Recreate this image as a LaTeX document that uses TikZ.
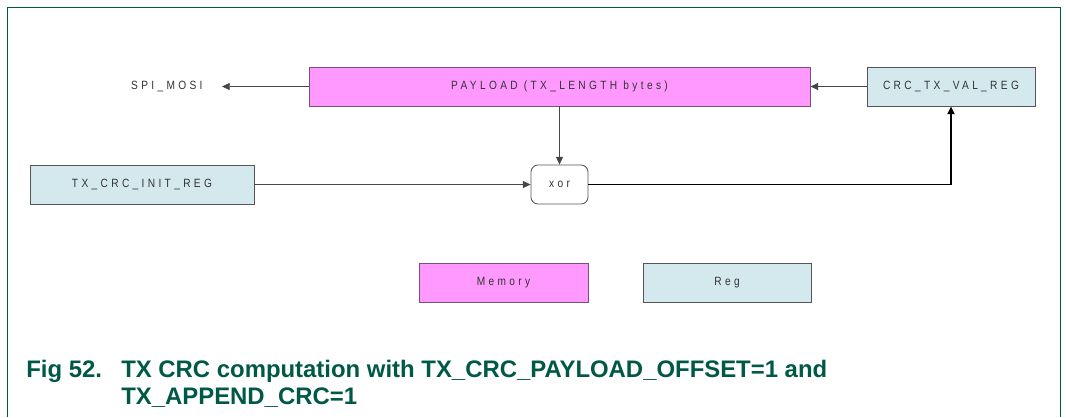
\documentclass[tikz,border=0pt]{standalone}
\usepackage{fontspec}
\setmainfont{Liberation Sans}
\newfontfamily\diagfont[LetterSpace=28, FakeStretch=0.85]{Liberation Sans}
\usetikzlibrary{arrows.meta, positioning}
\definecolor{memmagenta}{RGB}{255, 153, 255}
\definecolor{memborder}{RGB}{120, 80, 120}
\definecolor{reglightblue}{RGB}{211, 233, 238}
\definecolor{boxgray}{RGB}{85, 85, 85}
\definecolor{linegray}{RGB}{70, 70, 70}
\definecolor{nxpgreen}{RGB}{0, 88, 70}

\begin{document}
\begin{tikzpicture}[x=0.025cm, y=-0.025cm,
  cbox/.style={draw=boxgray, line width=0.6pt, minimum height=0.975cm, align=center, inner sep=0pt,
    font=\diagfont\fontsize{8.5}{10}\selectfont, text=black!80},
  membox/.style={cbox, fill=memmagenta, draw=memborder},
  regbox/.style={cbox, fill=reglightblue},
  flow/.style={draw=linegray, line width=0.5pt, -{Triangle[length=5.5pt, width=5pt]}},
  capfont/.style={font=\bfseries\fontsize{17}{24}\selectfont, text=nxpgreen, inner sep=0pt}
]
  \useasboundingbox (0, 0) rectangle (1066, 417);
  \draw[nxpgreen, line width=1.1pt] (7.5, 417) -- (7.5, 7.5) -- (1060.5, 7.5) -- (1060.5, 417);

  \node[membox, minimum width=12.525cm] (payload) at (559.5, 86.5) {PAYLOAD (TX\_LENGTH bytes)};
  \node[regbox, minimum width=4.2cm] (crcval) at (951, 86.5) {CRC\_TX\_VAL\_REG};
  \node[regbox, minimum width=5.6cm] (crcinit) at (142, 184.5) {TX\_CRC\_INIT\_REG};
  \node[cbox, rounded corners=5pt, fill=white, minimum width=1.425cm] (xor) at (559.5, 184.5) {xor};
  \node[cbox, draw=none, anchor=east, inner xsep=0.475cm] (spi) at (222, 86.5) {SPI\_MOSI};

  \draw[flow] (payload) -- (spi);
  \draw[flow] (crcval) -- (payload);
  \draw[flow] (payload) -- (xor);
  \draw[flow] (crcinit) -- (xor);
  \draw[flow, draw=black, line width=1.2pt] (xor) -| (crcval);

  \node[membox, minimum width=4.225cm] (memory) at (503.5, 283) {Memory};
  \node[regbox, minimum width=4.2cm] (reg) at (727, 283) {Reg};

  \node[capfont, anchor=base west] (fignum) at (26, 377.5) {Fig 52.};
  \node[capfont, anchor=base west] (capa) at (121, 377.5) {TX CRC computation with TX\_CRC\_PAYLOAD\_OFFSET=1 and};
  \node[capfont, anchor=base west] (capb) at (121, 404.5) {TX\_APPEND\_CRC=1};
\end{tikzpicture}
\end{document}
